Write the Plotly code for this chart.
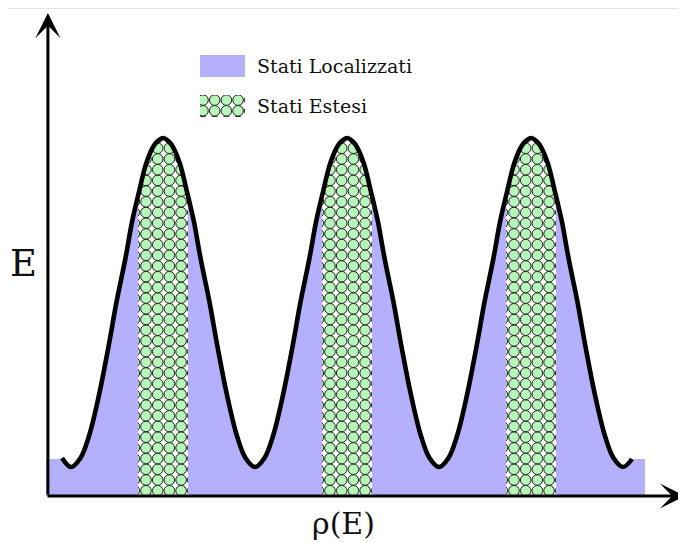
import plotly.graph_objects as go

# ---- data (x: rho(E) units, y: E units) ----
curve_x = [1.6, 2.5, 3.45, 4.3, 5.3, 6.3, 7.05, 7.95, 8.6, 9.2, 10.1, 10.9, 11.7, 12.5, 13.3, 14.2, 14.8,
           15.45, 16.35, 17.1, 18.1, 19.1, 19.95, 20.9,
           21.85, 22.7, 23.7, 24.7, 25.45, 26.35, 27.0, 27.6, 28.5, 29.3, 30.1, 30.9, 31.7, 32.6, 33.2,
           33.85, 34.75, 35.5, 36.5, 37.5, 38.35, 39.3,
           40.25, 41.1, 42.1, 43.1, 43.85, 44.75, 45.4, 46.0, 46.9, 47.7, 48.5, 49.3, 50.1, 51.0, 51.6,
           52.25, 53.15, 53.9, 54.9, 55.9, 56.75, 57.7, 58.6]
curve_y = [3.8, 2.9, 3.8, 6.0, 10.1, 15.2, 19.4, 23.8, 27.4, 30.0, 33.5, 35.2, 35.8, 35.2, 33.5, 30.0, 27.4,
           23.8, 19.4, 15.2, 10.1, 6.0, 3.8, 2.9,
           3.8, 6.0, 10.1, 15.2, 19.4, 23.8, 27.4, 30.0, 33.5, 35.2, 35.8, 35.2, 33.5, 30.0, 27.4,
           23.8, 19.4, 15.2, 10.1, 6.0, 3.8, 2.9,
           3.8, 6.0, 10.1, 15.2, 19.4, 23.8, 27.4, 30.0, 33.5, 35.2, 35.8, 35.2, 33.5, 30.0, 27.4,
           23.8, 19.4, 15.2, 10.1, 6.0, 3.8, 2.9, 3.7]

# extended-state bands (x ranges)
stripe_lo = [9.2, 27.6, 46.0]
stripe_hi = [14.2, 32.6, 51.0]

# flat localized-state shelves at both ends
edge_left_x = [0.0, 1.6]
edge_right_x = [58.6, 59.9]
edge_level = 3.7

legend_labels = ["Stati Localizzati", "Stati Estesi"]
x_label = "ρ(E)"
y_label = "E"

# ---- styles ----
LAV = "#b5b0fb"
GREEN = "#b6f6b8"
OUT = "#1e1e1e"
FONT = "DejaVu Serif"
CELL_W, CELL_H = 1.17, 1.07     # circle texture cell (axis units)
DOT = 10.6                      # circle diameter (px)
TOP = 48

fig = go.Figure()


def subset(lo, hi):
    sx = [x for x in curve_x if lo - 1e-9 <= x <= hi + 1e-9]
    sy = [y for x, y in zip(curve_x, curve_y) if lo - 1e-9 <= x <= hi + 1e-9]
    return sx, sy


def texture(x0, x1, y0, y1, cx0, cy0):
    xs, ys = [], []
    cx = cx0
    while cx <= x1 + CELL_W:
        cy = cy0
        while cy <= y1 + CELL_H:
            xs.append(cx)
            ys.append(cy)
            cy += CELL_H
        cx += CELL_W
    return xs, ys


# extended states: white band under the curve, then circle texture
for lo, hi in zip(stripe_lo, stripe_hi):
    sx, sy = subset(lo, hi)
    fig.add_trace(go.Scatter(x=sx, y=sy, mode="lines", line=dict(shape="spline", width=0, color="white"),
                             fill="tozeroy", fillcolor="white", hoverinfo="skip", showlegend=False))
    tx, ty = texture(lo, hi, 0, max(sy), lo + 0.8 - CELL_W, 0.53)
    fig.add_trace(go.Scatter(x=tx, y=ty, mode="markers",
                             marker=dict(symbol="circle", size=DOT, color=GREEN, line=dict(color=OUT, width=1)),
                             hoverinfo="skip", showlegend=False))

# localized states: lavender under the curve outside the bands (also trims the texture sides)
bounds = [curve_x[0]] + [v for pair in zip(stripe_lo, stripe_hi) for v in pair] + [curve_x[-1]]
for i in range(0, len(bounds), 2):
    sx, sy = subset(bounds[i], bounds[i + 1])
    fig.add_trace(go.Scatter(x=sx, y=sy, mode="lines", line=dict(shape="spline", width=0, color=LAV),
                             fill="tozeroy", fillcolor=LAV, hoverinfo="skip", showlegend=False))
for ex in (edge_left_x, edge_right_x):
    fig.add_trace(go.Scatter(x=ex, y=[edge_level] * len(ex), mode="lines", line=dict(width=0, color=LAV),
                             fill="tozeroy", fillcolor=LAV, hoverinfo="skip", showlegend=False))

# white mask above the curve (trims the texture at the top)
fig.add_trace(go.Scatter(x=[curve_x[0], curve_x[-1]], y=[TOP, TOP], mode="lines", line=dict(width=0, color="white"),
                         hoverinfo="skip", showlegend=False))
fig.add_trace(go.Scatter(x=curve_x, y=curve_y, mode="lines", line=dict(shape="spline", width=0, color="white"),
                         fill="tonexty", fillcolor="white", hoverinfo="skip", showlegend=False))

# the curve
fig.add_trace(go.Scatter(x=curve_x, y=curve_y, mode="lines",
                         line=dict(shape="spline", width=4.6, color="black"),
                         hoverinfo="skip", showlegend=False))

# ---- legend ----
sw_x = [0.2406, 0.3109]
sw1_y = [0.8729, 0.9188]
sw2_y = [0.7896, 0.8354]
fig.add_trace(go.Scatter(x=[sw_x[0], sw_x[1], sw_x[1], sw_x[0], sw_x[0]],
                         y=[sw1_y[0], sw1_y[0], sw1_y[1], sw1_y[1], sw1_y[0]],
                         mode="lines", line=dict(width=0, color=LAV), fill="toself", fillcolor=LAV,
                         hoverinfo="skip", showlegend=False, xaxis="x2", yaxis="y2"))
lx, ly = texture(0, 4.5, 0, 2.2, 0.3, -0.45)
fig.add_trace(go.Scatter(x=lx, y=ly, mode="markers",
                         marker=dict(symbol="circle", size=DOT, color=GREEN, line=dict(color=OUT, width=1)),
                         hoverinfo="skip", showlegend=False, xaxis="x3", yaxis="y3"))

annotations = [
    dict(x=0.3266, y=0.8958, xref="paper", yref="paper", text=legend_labels[0], showarrow=False,
         xanchor="left", yanchor="middle", font=dict(family=FONT, size=19, color="#111")),
    dict(x=0.3266, y=0.8125, xref="paper", yref="paper", text=legend_labels[1], showarrow=False,
         xanchor="left", yanchor="middle", font=dict(family=FONT, size=19, color="#111")),
    dict(x=-0.0359, y=0.4854, xref="paper", yref="paper", text=y_label, showarrow=False,
         xanchor="center", yanchor="middle", font=dict(family=FONT, size=37, color="#111")),
    dict(x=0.4641, y=-0.05625, xref="paper", yref="paper", text=x_label, showarrow=False,
         xanchor="center", yanchor="middle", font=dict(family=FONT, size=30, color="#111")),
    # axis arrows
    dict(x=1.0, y=0.0, xref="paper", yref="paper", ax=-640, ay=0, axref="pixel", ayref="pixel",
         text="", showarrow=True, arrowhead=3, arrowwidth=3, arrowsize=1.4, arrowcolor="black"),
    dict(x=0.003, y=1.00625, xref="paper", yref="paper", ax=0, ay=483, axref="pixel", ayref="pixel",
         text="", showarrow=True, arrowhead=3, arrowwidth=3, arrowsize=1.4, arrowcolor="black"),
]

# the page adds an 8px body margin, so the figure is 8px smaller and its margins 8px tighter
fig.update_layout(
    width=678, height=535,
    margin=dict(l=38, r=0, t=8, b=47),
    paper_bgcolor="white", plot_bgcolor="white",
    xaxis=dict(range=[0, 64], visible=False, fixedrange=True),
    yaxis=dict(range=[0, TOP], visible=False, fixedrange=True),
    xaxis2=dict(range=[0, 1], visible=False, overlaying="x", domain=[0, 1]),
    yaxis2=dict(range=[0, 1], visible=False, overlaying="y", domain=[0, 1]),
    xaxis3=dict(range=[0, 4.5], visible=False, domain=sw_x, anchor="y3", fixedrange=True),
    yaxis3=dict(range=[0, 2.2], visible=False, domain=sw2_y, anchor="x3", fixedrange=True),
    annotations=annotations,
    shapes=[dict(type="line", xref="paper", yref="paper", x0=-0.06, x1=1.0, y0=1.0156, y1=1.0156,
                 line=dict(color="#e4e4e4", width=1))],
    showlegend=False,
)

fig.write_html("out.html")
